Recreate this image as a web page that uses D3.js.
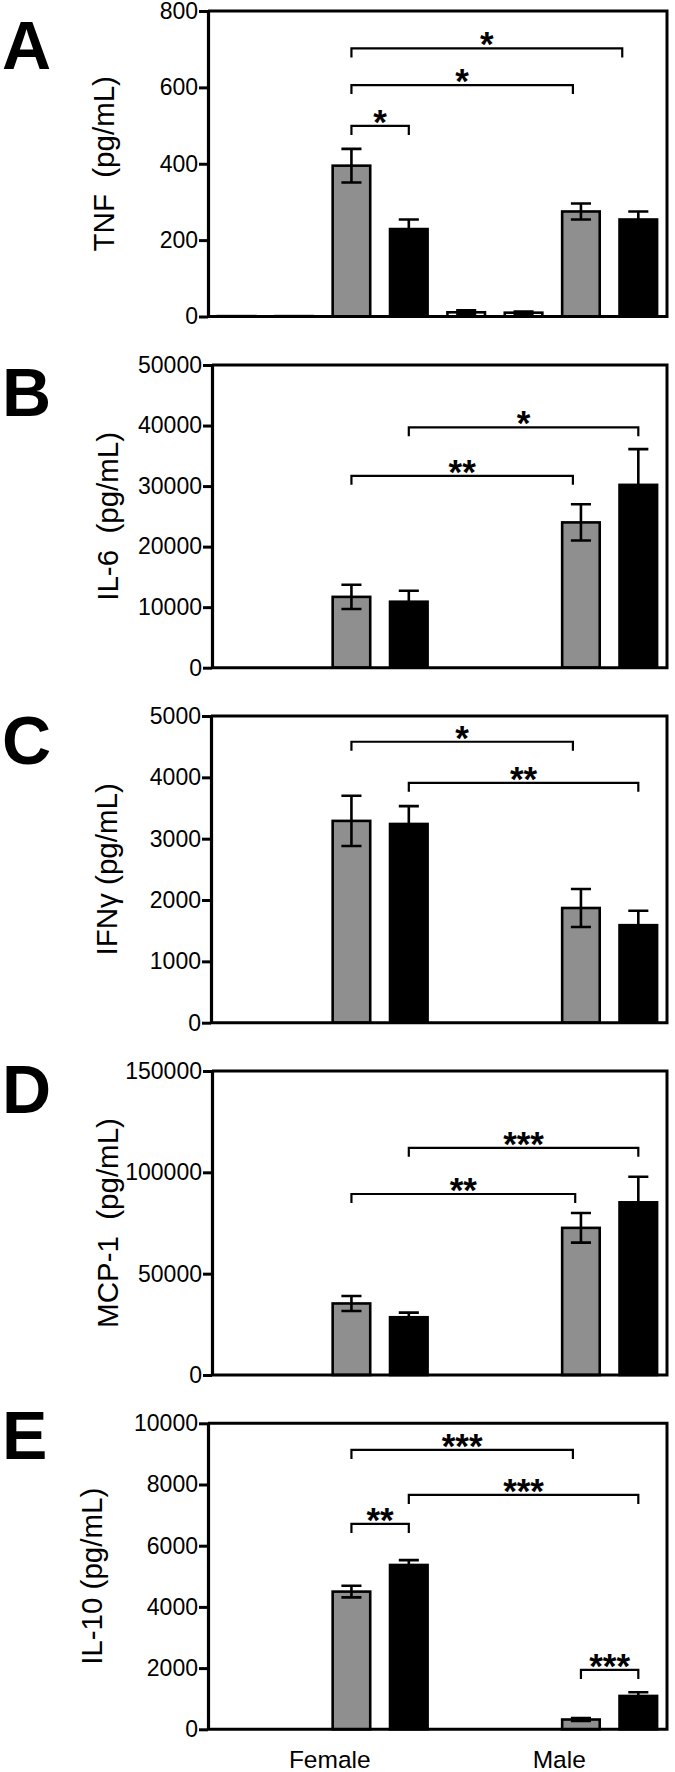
<!DOCTYPE html>
<html>
<head>
<meta charset="utf-8">
<script src="https://cdn.jsdelivr.net/npm/d3@7"></script>
<style>
  html, body { margin: 0; padding: 0; background: #fff; }
  svg { display: block; font-family: "Liberation Sans", Arial, Helvetica, sans-serif; }
</style>
</head>
<body>
<script>
// ---------------- DATA ----------------
const groups = ["Female", "Male"];
// 8 bars: per sex, two control (open) bars, one grey-treated and one black-treated bar
const conditions = ["Ctrl 1", "Ctrl 2", "Grey", "Black"];
const barKeys = ["F-Ctrl 1", "F-Ctrl 2", "F-Grey", "F-Black", "M-Ctrl 1", "M-Ctrl 2", "M-Grey", "M-Black"];

const tnfMeans  = [1, 1, 395, 229, 11, 10, 275, 254];
const tnfErr    = [0, 0, 44, 25, 5, 3, 21, 21];
const il6Means  = [0, 0, 11700, 10900, 0, 0, 24000, 30200];
const il6Err    = [0, 0, 2000, 1800, 0, 0, 3000, 5900];
const ifngMeans = [0, 0, 3290, 3240, 0, 0, 1870, 1590];
const ifngErr   = [0, 0, 410, 290, 0, 0, 310, 235];
const mcp1Means = [0, 0, 35300, 28500, 0, 0, 72600, 85200];
const mcp1Err   = [0, 0, 3700, 2300, 0, 0, 7300, 12600];
const il10Means = [0, 0, 4500, 5370, 0, 0, 320, 1090];
const il10Err   = [0, 0, 190, 160, 0, 0, 50, 120];

const tnfTicks  = [0, 200, 400, 600, 800];
const il6Ticks  = [0, 10000, 20000, 30000, 40000, 50000];
const ifngTicks = [0, 1000, 2000, 3000, 4000, 5000];
const mcp1Ticks = [0, 50000, 100000, 150000];
const il10Ticks = [0, 2000, 4000, 6000, 8000, 10000];

const panelLetters = ["A", "B", "C", "D", "E"];
const yTitles = ["TNF\u00a0 (pg/mL)", "IL-6\u00a0 (pg/mL)", "IFN\u03b3 (pg/mL)", "MCP-1\u00a0 (pg/mL)", "IL-10 (pg/mL)"];

// significance brackets: from bar position, to bar position (bar index, fractional = off-centre anchor),
// level (data units), label
const tnfSig  = [[2, 6.72, 702, "*"], [2, 5.86, 606, "*"], [2, 3, 499, "*"]];
const il6Sig  = [[2, 5.86, 31700, "**"], [3, 7, 39700, "*"]];
const ifngSig = [[2, 5.86, 4580, "*"], [3, 7, 3910, "**"]];
const mcp1Sig = [[2, 5.9, 89300, "**"], [3, 7, 112100, "***"]];
const il10Sig = [[2, 5.86, 9130, "***"], [3, 7, 7660, "***"], [2, 3, 6710, "**"], [6, 7, 1940, "***"]];

// ---------------- LAYOUT / STYLE ----------------
const W = 675, H = 1772;
const plotRight = 667;
const bandLeft = 208;
const layout = [
  { axisX: 208, top: 11,     bottom: 316.5,  titleX: 103 },
  { axisX: 212, top: 365,    bottom: 667.7,  titleX: 107 },
  { axisX: 211, top: 716,    bottom: 1022.7, titleX: 106 },
  { axisX: 212, top: 1071,   bottom: 1375,   titleX: 107 },
  { axisX: 208, top: 1423.3, bottom: 1729.3, titleX: 91 }
];
const letterY = [69, 416, 764, 1113, 1459];
const fillScale = d3.scaleOrdinal().domain(conditions).range(["#ffffff", "#ffffff", "#8f8f8f", "#000000"]);

const panels = [
  { means: tnfMeans,  err: tnfErr,  ticks: tnfTicks,  sig: tnfSig },
  { means: il6Means,  err: il6Err,  ticks: il6Ticks,  sig: il6Sig },
  { means: ifngMeans, err: ifngErr, ticks: ifngTicks, sig: ifngSig },
  { means: mcp1Means, err: mcp1Err, ticks: mcp1Ticks, sig: mcp1Sig },
  { means: il10Means, err: il10Err, ticks: il10Ticks, sig: il10Sig }
];

const svg = d3.select("body").append("svg").attr("width", W).attr("height", H);

const x = d3.scaleBand().domain(d3.range(barKeys.length)).range([bandLeft, plotRight])
  .paddingInner(0.3).paddingOuter(0.15);
const bw = x.bandwidth();
const barStroke = 2.6;
// centre of a (possibly fractional) bar position
const barPos = v => x(Math.floor(v)) + bw / 2 + (v - Math.floor(v)) * x.step();

panels.forEach((p, pi) => {
  const L = layout[pi];
  const y = d3.scaleLinear().domain([0, d3.max(p.ticks)]).range([L.bottom, L.top]);
  const g = svg.append("g");

  // bars
  g.selectAll("rect.bar").data(p.means).join("rect")
    .attr("class", "bar")
    .attr("x", (d, i) => x(i) + barStroke / 2)
    .attr("width", bw - barStroke)
    .attr("y", d => y(d))
    .attr("height", d => y(0) - y(d))
    .attr("fill", (d, i) => fillScale(conditions[i % 4]))
    .attr("stroke", "#000")
    .attr("stroke-width", barStroke);

  // error bars
  const capW = bw * 0.5;
  p.means.forEach((m, i) => {
    const e = p.err[i];
    if (!e) return;
    const cx = x(i) + bw / 2;
    const path = `M${cx},${y(Math.max(0, m - e))}V${y(m + e)}` +
      `M${cx - capW / 2},${y(m + e)}H${cx + capW / 2}` +
      (m - e > 0 ? `M${cx - capW / 2},${y(m - e)}H${cx + capW / 2}` : "");
    g.append("path").attr("d", path).attr("fill", "none")
      .attr("stroke", "#000").attr("stroke-width", 2.6);
  });

  // frame: top, right, bottom
  g.append("path")
    .attr("d", `M${L.axisX},${L.top}H${plotRight}V${L.bottom}H${L.axisX}`)
    .attr("fill", "none").attr("stroke", "#000").attr("stroke-width", 3);

  // y axis
  const ax = g.append("g").attr("transform", `translate(${L.axisX},0)`)
    .call(d3.axisLeft(y).tickValues(p.ticks).tickSize(9).tickSizeOuter(0).tickPadding(1).tickFormat(d3.format("d")));
  ax.select(".domain").attr("stroke-width", 3.2).attr("stroke", "#000");
  ax.selectAll(".tick line").attr("stroke-width", 3).attr("stroke", "#000");
  ax.selectAll(".tick text").attr("font-size", 23).attr("fill", "#000")
    .attr("font-family", "'Liberation Sans', Arial, sans-serif");

  // brackets
  p.sig.forEach(([a, b, lvl, lab]) => {
    const x1 = barPos(a), x2 = barPos(b), ly = y(lvl);
    g.append("path").attr("d", `M${x1},${ly + 9}V${ly}H${x2}V${ly + 9}`)
      .attr("fill", "none").attr("stroke", "#000").attr("stroke-width", 2.2);
    g.append("text").attr("x", (x1 + x2) / 2).attr("y", ly + 8)
      .attr("text-anchor", "middle").attr("font-size", 35).attr("font-weight", "bold")
      .text(lab);
  });

  // y title
  svg.append("text")
    .attr("transform", `translate(${L.titleX},${(L.top + L.bottom) / 2}) rotate(-90)`)
    .attr("text-anchor", "middle").attr("dominant-baseline", "central")
    .attr("font-size", 29.5).style("white-space", "pre")
    .text(yTitles[pi]);

  // panel letter
  svg.append("text").attr("x", 2).attr("y", letterY[pi])
    .attr("font-size", 68).attr("font-weight", "bold").text(panelLetters[pi]);
});

// group labels under last panel
const groupCenters = groups.map((gname, gi) => (x(gi * 4) + x(gi * 4 + 3) + bw) / 2 + 7);
svg.selectAll("text.grp").data(groups).join("text")
  .attr("class", "grp")
  .attr("x", (d, i) => groupCenters[i])
  .attr("y", 1768)
  .attr("text-anchor", "middle")
  .attr("font-size", 24.5)
  .text(d => d);
</script>
</body>
</html>
